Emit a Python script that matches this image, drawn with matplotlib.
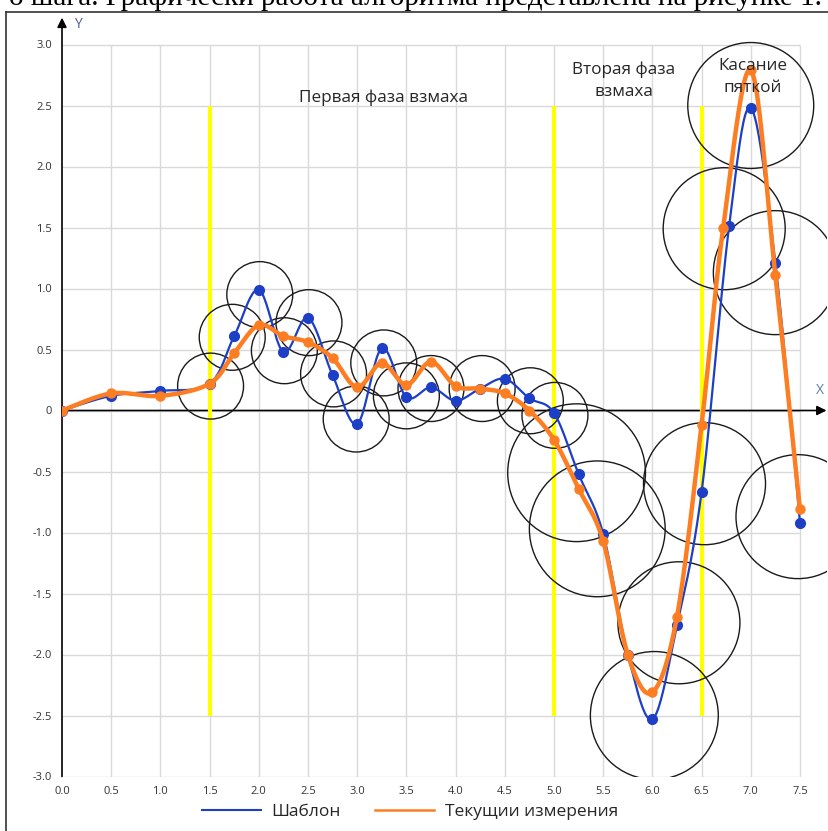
import numpy as np
import matplotlib
matplotlib.use("Agg")
import matplotlib.pyplot as plt
from matplotlib.patches import Ellipse
from matplotlib.lines import Line2D

plt.rcParams['font.family'] = ['Open Sans', 'DejaVu Sans']

# ----------------------------------------------------------------------
# Data
# ----------------------------------------------------------------------
tmpl_x = [0.0, 0.5, 1.0, 1.5, 1.75, 2.0, 2.25, 2.5, 2.75, 3.0, 3.25, 3.5, 3.75,
          4.0, 4.25, 4.5, 4.75, 5.0, 5.25, 5.5, 5.75, 6.0, 6.25, 6.5, 6.78,
          7.0, 7.25, 7.5]
tmpl_y = [0.0, 0.12, 0.16, 0.22, 0.61, 0.99, 0.48, 0.76, 0.29, -0.11, 0.51,
          0.11, 0.19, 0.08, 0.18, 0.26, 0.10, -0.02, -0.52, -1.01, -2.0, -2.53,
          -1.76, -0.67, 1.51, 2.48, 1.21, -0.92]

meas_x = [0.0, 0.5, 1.0, 1.5, 1.75, 2.0, 2.25, 2.5, 2.75, 3.0, 3.25, 3.5, 3.75,
          4.0, 4.25, 4.5, 4.75, 5.0, 5.25, 5.5, 5.75, 6.0, 6.25, 6.5, 6.72,
          7.0, 7.25, 7.5]
meas_y = [0.0, 0.14, 0.12, 0.22, 0.47, 0.70, 0.61, 0.56, 0.43, 0.19, 0.39,
          0.21, 0.40, 0.20, 0.18, 0.14, 0.0, -0.24, -0.64, -1.07, -2.0, -2.31,
          -1.69, -0.12, 1.50, 2.79, 1.11, -0.81]

# tolerance circles: centre x, centre y, radius (in x units)
circ_x = [1.51, 1.73, 2.01, 2.26, 2.51, 2.76, 2.99, 3.27, 3.50, 3.75, 4.27,
          4.76, 5.01, 5.23, 5.44, 6.02, 6.27, 6.53, 6.73, 7.00, 7.25, 7.48]
circ_y = [0.20, 0.60, 0.95, 0.49, 0.72, 0.30, -0.07, 0.39, 0.12, 0.18, 0.18,
          0.08, -0.04, -0.51, -0.97, -2.50, -1.74, -0.60, 1.49, 2.50, 1.13, -0.87]
circ_r = [0.335] * 13 + [0.70, 0.69, 0.65, 0.62, 0.62, 0.62, 0.64, 0.63, 0.63]

phase_x = [1.5, 5.0, 6.5]
phase_labels = ["Первая фаза взмаха", "Вторая фаза\nвзмаха", "Касание\nпяткой"]
phase_label_x = [3.27, 5.71, 7.02]
phase_label_y = [2.56, 2.70, 2.73]

x_ticks = np.arange(0, 7.51, 0.5)
y_ticks = np.arange(-3.0, 3.01, 0.5)


def smooth(x, y, n=24):
    """Bezier smoothing through the points, like Excel's 'smoothed line'."""
    p = np.column_stack([x, y]).astype(float)
    out = [p[0]]
    t = np.linspace(0, 1, n)[1:, None]
    for i in range(len(p) - 1):
        p0 = p[i - 1] if i > 0 else p[i]
        p1, p2 = p[i], p[i + 1]
        p3 = p[i + 2] if i + 2 < len(p) else p[i + 1]
        c1 = p1 + (p2 - p0) / 6
        c2 = p2 - (p3 - p1) / 6
        seg = (1 - t) ** 3 * p1 + 3 * (1 - t) ** 2 * t * c1 \
            + 3 * (1 - t) * t ** 2 * c2 + t ** 3 * p2
        out.extend(seg)
    out = np.array(out)
    return out[:, 0], out[:, 1]


# ----------------------------------------------------------------------
# Figure
# ----------------------------------------------------------------------
W, H = 829, 831
fig = plt.figure(figsize=(W / 100, H / 100), dpi=100)
XMAX, YMIN, YMAX = 7.78, -3.0, 3.25
ax_l, ax_r, ax_t, ax_b = 62, 827.5, 14, 776.5
ax = fig.add_axes([ax_l / W, (H - ax_b) / H, (ax_r - ax_l) / W, (ax_b - ax_t) / H])
ax.set_xlim(0, XMAX)
ax.set_ylim(YMIN, YMAX)
for s in ax.spines.values():
    s.set_visible(False)

# grid
ax.vlines(x_ticks[1:], -3, 3, color='#d9d9d9', lw=1, zorder=1)
ax.hlines(y_ticks, 0, 7.5, color='#d9d9d9', lw=1, zorder=1)

# axes arrows
ax.annotate('', xy=(7.77, 0), xytext=(0, 0),
            arrowprops=dict(arrowstyle='-|>', color='black', lw=1.2,
                            mutation_scale=14, shrinkA=0, shrinkB=0), zorder=2)
ax.annotate('', xy=(0, 3.22), xytext=(0, -3.0),
            arrowprops=dict(arrowstyle='-|>', color='black', lw=1.2,
                            mutation_scale=14, shrinkA=0, shrinkB=0), zorder=2)
ax.text(7.66, 0.1, 'X', color='#5b7fa6', fontsize=10, ha='left', va='bottom')
ax.text(0.12, 3.16, 'Y', color='#4a5a9a', fontsize=10, ha='left', va='center')

# phase boundaries
ax.vlines(phase_x, -2.5, 2.5, color='#ffff00', lw=3, zorder=2)
for lx, ly, lab in zip(phase_label_x, phase_label_y, phase_labels):
    ax.text(lx, ly, lab, ha='center', va='center', fontsize=12.3,
            color='#262626', linespacing=1.5, zorder=6)

# tolerance circles (round in pixel space)
sx = (ax_r - ax_l) / XMAX
sy = (ax_b - ax_t) / (YMAX - YMIN)
for cx, cy, r in zip(circ_x, circ_y, circ_r):
    ax.add_patch(Ellipse((cx, cy), 2 * r, 2 * r * sx / sy, fill=False,
                         ec='#1a1a1a', lw=1.0, zorder=3))

# series
BLUE, ORANGE = '#1d3fc6', '#fd7e22'
bx, by = smooth(tmpl_x, tmpl_y)
ox, oy = smooth(meas_x, meas_y)
ax.plot(bx, by, color=BLUE, lw=1.6, zorder=4, solid_capstyle='round')
ax.plot(tmpl_x, tmpl_y, 'o', color=BLUE, ms=7, zorder=4)
ax.plot(ox, oy, color=ORANGE, lw=3.2, zorder=5, solid_capstyle='round')
ax.plot(meas_x, meas_y, 'o', color=ORANGE, ms=6.5, zorder=5)

# ticks
ax.set_xticks(x_ticks)
ax.set_xticklabels([f"{v:.1f}" for v in x_ticks])
ax.set_yticks(y_ticks)
ax.set_yticklabels(["0" if abs(v) < 1e-9 else f"{v:.1f}" for v in y_ticks])
ax.tick_params(length=0, labelsize=8, colors='#333333', pad=7)

# legend
handles = [Line2D([], [], color=BLUE, lw=1.5),
           Line2D([], [], color=ORANGE, lw=1.8)]
fig.legend(handles, ["Шаблон", "Текущии измерения"], loc='center',
           bbox_to_anchor=(410 / W, 1 - 812 / H), ncol=2, frameon=False,
           fontsize=12.5, handlelength=3.4, handletextpad=0.6,
           columnspacing=2.0, labelcolor='#262626')

# outer frame and the cut caption line of the page above it
fig.add_artist(Line2D([6 / W, 1.0], [1 - 12 / H, 1 - 12 / H],
                      color='#333333', lw=1.2))
fig.add_artist(Line2D([6 / W, 6 / W], [0, 1 - 12 / H], color='#333333', lw=1.2))
fig.text(822 / W, 1 - 5 / H,
         "о шага. Графически работа алгоритма представлена на рисунке 1.",
         family='Liberation Serif', fontsize=21, ha='right', va='baseline',
         color='black')

fig.savefig("out.png", dpi=100)
